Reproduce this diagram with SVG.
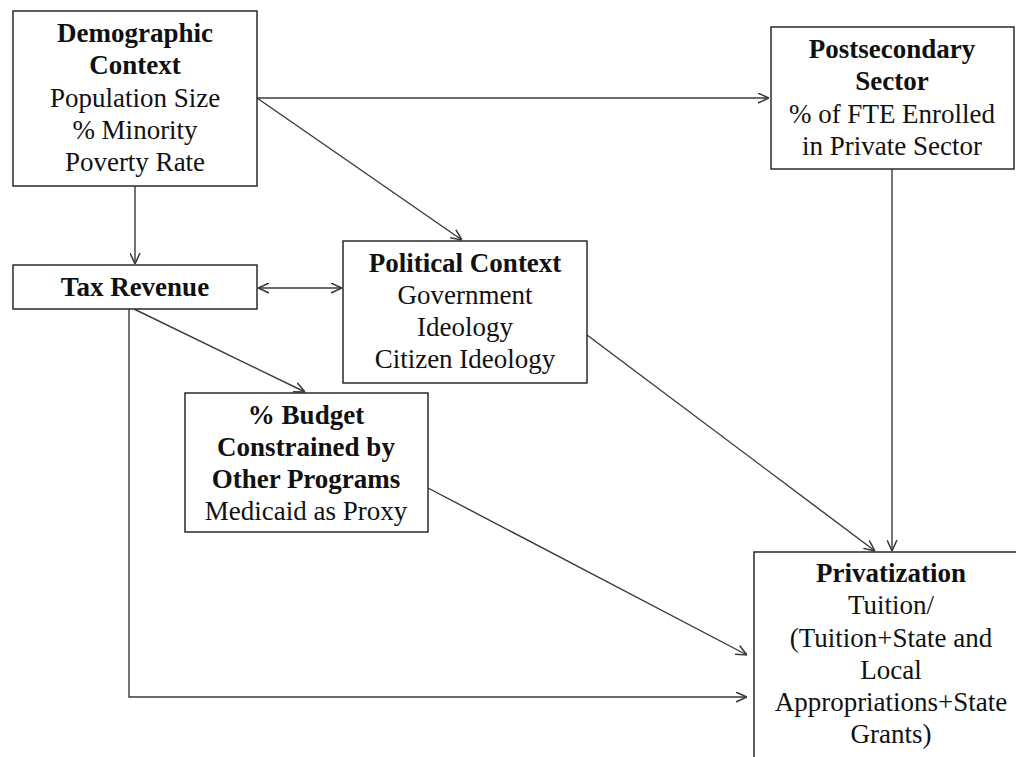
<svg xmlns="http://www.w3.org/2000/svg" width="1016" height="757" viewBox="0 0 1016 757">
<defs>
<style>
.box{fill:#fff;stroke:#2a2a2a;stroke-width:1.5}
.t{font-family:"Liberation Serif","Times New Roman",serif;font-size:27px;fill:#111;text-anchor:middle}
.b{font-weight:bold}
.c{fill:none;stroke:#3a3a3a;stroke-width:1.4}
</style>
<marker id="ah" viewBox="0 0 10 10" refX="10" refY="5" markerWidth="11" markerHeight="11" markerUnits="userSpaceOnUse" orient="auto-start-reverse">
<path d="M0,0.5 L10,5 L0,9.5" fill="none" stroke="#3a3a3a" stroke-width="1.4"/>
</marker>
</defs>
<rect width="1016" height="757" fill="#fff"/>
<g id="connectors">
<line class="c" x1="257" y1="98" x2="769" y2="98" marker-end="url(#ah)"/>
<line class="c" x1="257" y1="98" x2="462" y2="240" marker-end="url(#ah)"/>
<line class="c" x1="135" y1="186" x2="135" y2="264" marker-end="url(#ah)"/>
<line class="c" x1="258" y1="288" x2="342" y2="288" marker-start="url(#ah)" marker-end="url(#ah)"/>
<line class="c" x1="134" y1="309" x2="305" y2="392" marker-end="url(#ah)"/>
<polyline class="c" points="129,309 129,697 747,697" marker-end="url(#ah)"/>
<line class="c" x1="428" y1="488" x2="747" y2="655" marker-end="url(#ah)"/>
<line class="c" x1="587" y1="335" x2="875" y2="551" marker-end="url(#ah)"/>
<line class="c" x1="892" y1="169" x2="892" y2="551" marker-end="url(#ah)"/>
</g>
<g id="demographic">
<rect class="box" x="13" y="11" width="244" height="175"/>
<text class="t b" x="135" y="42">Demographic</text>
<text class="t b" x="135" y="74">Context</text>
<text class="t" x="135" y="107">Population Size</text>
<text class="t" x="135" y="139">% Minority</text>
<text class="t" x="135" y="171">Poverty Rate</text>
</g>
<g id="postsecondary">
<rect class="box" x="771" y="27" width="243" height="142"/>
<text class="t b" x="892" y="58">Postsecondary</text>
<text class="t b" x="892" y="90">Sector</text>
<text class="t" x="892" y="123">% of FTE Enrolled</text>
<text class="t" x="892" y="155">in Private Sector</text>
</g>
<g id="tax">
<rect class="box" x="13" y="265" width="244" height="44"/>
<text class="t b" x="135" y="296">Tax Revenue</text>
</g>
<g id="political">
<rect class="box" x="343" y="241" width="244" height="142"/>
<text class="t b" x="465" y="272">Political Context</text>
<text class="t" x="465" y="304">Government</text>
<text class="t" x="465" y="336">Ideology</text>
<text class="t" x="465" y="368">Citizen Ideology</text>
</g>
<g id="budget">
<rect class="box" x="185" y="393" width="243" height="139"/>
<text class="t b" x="306" y="424">% Budget</text>
<text class="t b" x="306" y="456">Constrained by</text>
<text class="t b" x="306" y="488">Other Programs</text>
<text class="t" x="306" y="520">Medicaid as Proxy</text>
</g>
<g id="privatization">
<rect class="box" x="754" y="552" width="275" height="220"/>
<text class="t b" x="891" y="582">Privatization</text>
<text class="t" x="891" y="614">Tuition/</text>
<text class="t" x="891" y="647">(Tuition+State and</text>
<text class="t" x="891" y="679">Local</text>
<text class="t" x="891" y="711">Appropriations+State</text>
<text class="t" x="891" y="743">Grants)</text>
</g>
</svg>
